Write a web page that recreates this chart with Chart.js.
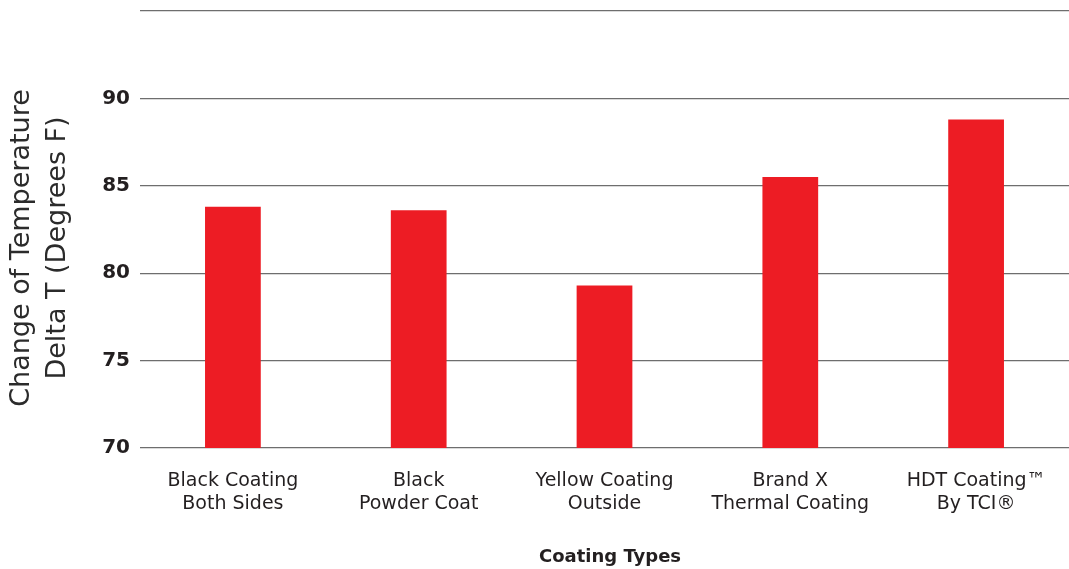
<!DOCTYPE html>
<html>
<head>
<meta charset="utf-8">
<script src="https://cdn.jsdelivr.net/npm/chart.js@4/dist/chart.umd.min.js"></script>
<style>
html,body{margin:0;padding:0;background:#fff;}
#wrap{width:1069px;height:569px;position:relative;}
</style>
</head>
<body>
<div id="wrap"><canvas id="c"></canvas></div>
<script>
const categories = [
  ['Black Coating', 'Both Sides'],
  ['Black', 'Powder Coat'],
  ['Yellow Coating', 'Outside'],
  ['Brand X', 'Thermal Coating'],
  ['HDT Coating\u2122', 'By TCI\u00AE']
];
const deltaT = [83.8, 83.6, 79.3, 85.5, 88.8];
const yTicks = [70, 75, 80, 85, 90];
const yTitle = ['Change of Temperature', 'Delta T (Degrees F)'];
const xTitle = 'Coating Types';

const FONT = '"DejaVu Sans", sans-serif';
const TEXT = '#231F20';

const titlePlugin = {
  id: 'axisTitles',
  afterDraw(chart) {
    const ctx = chart.ctx;
    ctx.save();
    ctx.fillStyle = '#2b2b2b';
    ctx.font = '27px ' + FONT;
    ctx.textAlign = 'center';
    ctx.textBaseline = 'middle';
    ctx.translate(22, 248);
    ctx.rotate(-Math.PI / 2);
    ctx.fillText(yTitle[0], 0, 0);
    ctx.fillText(yTitle[1], 0, 36);
    ctx.restore();
    ctx.save();
    ctx.fillStyle = TEXT;
    ctx.font = 'bold 18px ' + FONT;
    ctx.textAlign = 'center';
    ctx.textBaseline = 'middle';
    ctx.fillText(xTitle, 610, 557);
    ctx.restore();
  }
};

new Chart(document.getElementById('c'), {
  type: 'bar',
  data: {
    labels: categories,
    datasets: [{
      data: deltaT,
      backgroundColor: '#ED1C24',
      borderWidth: 0,
      barPercentage: 0.3,
      categoryPercentage: 1.0
    }]
  },
  options: {
    responsive: true,
    maintainAspectRatio: false,
    animation: false,
    layout: { padding: { top: 11, right: 0, left: 0, bottom: 0 } },
    plugins: { legend: { display: false }, tooltip: { enabled: false } },
    scales: {
      x: {
        grid: { display: false, drawTicks: false },
        border: { display: false },
        ticks: {
          color: TEXT,
          font: { family: FONT, size: 19 },
          padding: 22,
          maxRotation: 0,
          autoSkip: false
        },
        afterFit(s) { s.height = 121; s.paddingLeft = 0; s.paddingRight = 0; }
      },
      y: {
        min: 70,
        max: 95,
        grid: { color: '#6e6e6e', lineWidth: 1.3, drawTicks: false },
        border: { display: false },
        ticks: {
          stepSize: 5,
          color: TEXT,
          font: { family: FONT, size: 20, weight: 'bold' },
          padding: 10,
          callback: (v) => yTicks.includes(v) ? String(v) : ''
        },
        afterFit(s) { s.width = 140; s.paddingTop = 0; s.paddingBottom = 0; }
      }
    }
  },
  plugins: [titlePlugin]
});
</script>
</body>
</html>
